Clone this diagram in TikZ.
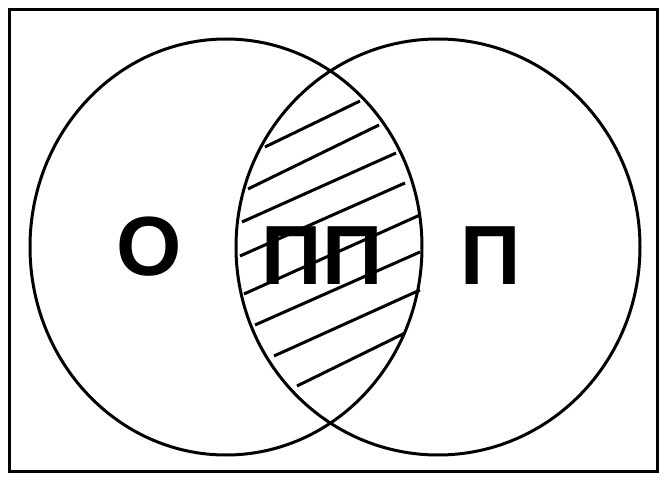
\documentclass[tikz,border=0pt]{standalone}
\usepackage{fontspec}
\setmainfont{Liberation Sans}
\usepackage{tikz}

\begin{document}
\begin{tikzpicture}[x=1pt,y=-1pt,
  ring/.style={draw,line width=3pt},
  hatch/.style={draw,line width=3pt},
  lbl/.style={inner sep=0pt,anchor=base,font=\fontsize{84}{84}\selectfont\bfseries}]
\useasboundingbox (0,0) rectangle (665,484);
\draw[line width=3pt] (9.5,9.5) rectangle (657,471);
\draw[ring] (226,247) ellipse [x radius=196,y radius=208];
\draw[ring] (438,247) ellipse [x radius=202,y radius=208];
\foreach \xa/\ya/\xb/\yb in {265/147/360/101,248/189/379/125,242/222/396/153,240/256/405/183,
  244/294/420/215,255/325/420/252,274/356/420/290,297/386/405/333}
  \draw[hatch] (\xa,\ya)--(\xb,\yb);
\node[lbl] (o) at (149,276) {О};
\node[lbl] (pp) at (322,285) {ПП};
\node[lbl] (p) at (491,285) {П};
\end{tikzpicture}
\end{document}
